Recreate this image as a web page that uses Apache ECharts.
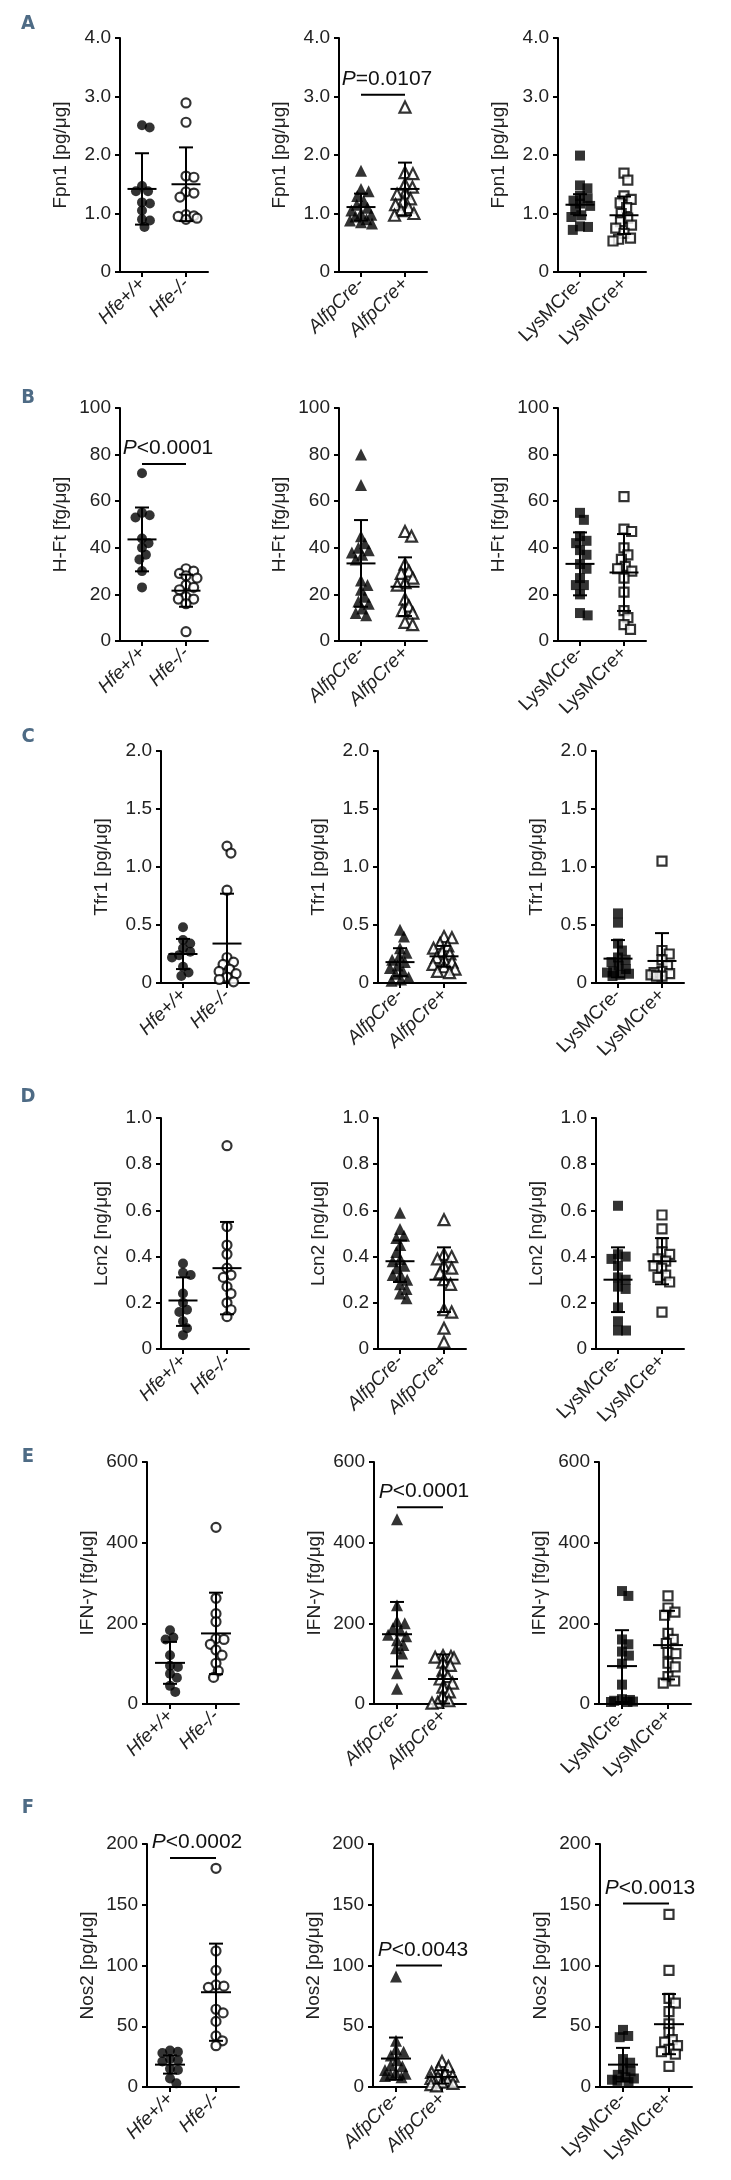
<!DOCTYPE html>
<html><head><meta charset="utf-8">
<script src="https://cdn.jsdelivr.net/npm/echarts@6/dist/echarts.min.js"></script>
<style>html,body{margin:0;padding:0;background:#fff}#c{width:731px;height:2180px}</style>
</head><body><div id="c"></div>
<script>
// ---------------- DATA ----------------
const hfeCats = ['Hfe+/+', 'Hfe-/-'];
const alfpCats = ['AlfpCre-', 'AlfpCre+'];
const lysCats = ['LysMCre-', 'LysMCre+'];

const yNames = ['Fpn1 [pg/μg]', 'H-Ft [fg/μg]', 'Tfr1 [pg/μg]', 'Lcn2 [ng/μg]', 'IFN-γ [fg/μg]', 'Nos2 [pg/μg]'];
const yMaxes = [4, 100, 2, 1, 600, 200];
const yIntervals = [1, 20, 0.5, 0.2, 200, 50];
const yDecimals = [1, 0, 1, 1, 0, 0];
const rowLetters = ['A', 'B', 'C', 'D', 'E', 'F'];

// Fpn1
const fpn1Hfe = [[2.51, 2.47, 1.47, 1.38, 1.38, 1.19, 1.17, 1.05, 0.9, 0.88, 0.77], [2.89, 2.56, 1.64, 1.62, 1.37, 1.35, 1.28, 0.98, 0.96, 0.95, 0.92, 0.9]];
const fpn1HfeStats = [[1.42, 0.81, 2.03], [1.50, 0.87, 2.13]];
const fpn1Alfp = [[1.73, 1.42, 1.38, 1.3, 1.22, 1.15, 1.1, 1.05, 1.0, 0.98, 0.95, 0.9, 0.88, 0.85, 0.83], [2.82, 1.7, 1.68, 1.5, 1.45, 1.35, 1.33, 1.25, 1.2, 1.15, 1.1, 1.05, 1.0, 0.97]];
const fpn1AlfpStats = [[1.11, 0.88, 1.34], [1.42, 0.97, 1.87]];
const fpn1Lys = [[1.99, 1.48, 1.43, 1.3, 1.26, 1.22, 1.17, 1.13, 1.06, 0.97, 0.94, 0.78, 0.77, 0.72], [1.69, 1.57, 1.3, 1.24, 1.18, 1.1, 1.0, 0.92, 0.86, 0.8, 0.75, 0.66, 0.58, 0.56, 0.53]];
const fpn1LysStats = [[1.15, 0.97, 1.33], [0.97, 0.65, 1.29]];
// H-Ft
const hftHfe = [[72, 55, 54, 53, 44, 42, 40, 37, 35, 30, 23], [31, 30, 29, 28, 27, 24, 23, 22, 19, 18, 18, 16, 4]];
const hftHfeStats = [[43.6, 29.9, 57.3], [21.6, 14.7, 28.5]];
const hftAlfp = [[80, 67, 45, 42, 40, 39, 38, 37, 35, 26, 24, 22, 19, 17, 16, 14, 12, 11], [47, 45, 33, 30, 29, 27, 25, 24, 18, 15, 13, 12, 8, 7]];
const hftAlfpStats = [[33.3, 14.7, 51.9], [23.3, 10.7, 35.9]];
const hftLys = [[55, 52, 45, 43, 42, 39, 37, 33, 31, 27, 24, 24, 20, 12, 11], [62, 48, 47, 40, 37, 35, 32, 31, 30, 27, 21, 13, 10, 7, 5]];
const hftLysStats = [[33.1, 19.6, 46.6], [29.4, 12.9, 45.9]];
// Tfr1
const tfr1Hfe = [[0.48, 0.37, 0.34, 0.3, 0.27, 0.24, 0.22, 0.14, 0.09, 0.06], [1.18, 1.12, 0.8, 0.22, 0.18, 0.16, 0.12, 0.1, 0.08, 0.05, 0.03, 0.01]];
const tfr1HfeStats = [[0.25, 0.12, 0.38], [0.34, -0.09, 0.77]];
const tfr1Alfp = [[0.46, 0.4, 0.3, 0.26, 0.23, 0.2, 0.18, 0.15, 0.13, 0.1, 0.08, 0.05, 0.03, 0.02], [0.4, 0.39, 0.34, 0.32, 0.3, 0.27, 0.25, 0.22, 0.2, 0.18, 0.16, 0.14, 0.12, 0.1, 0.09]];
const tfr1AlfpStats = [[0.18, 0.06, 0.30], [0.23, 0.14, 0.32]];
const tfr1Lys = [[0.6, 0.52, 0.34, 0.28, 0.22, 0.2, 0.18, 0.15, 0.12, 0.1, 0.09, 0.08, 0.07, 0.06], [1.05, 0.28, 0.25, 0.2, 0.15, 0.1, 0.09, 0.08, 0.07, 0.06, 0.06]];
const tfr1LysStats = [[0.21, 0.05, 0.37], [0.19, -0.05, 0.43]];
// Lcn2
const lcn2Hfe = [[0.37, 0.33, 0.32, 0.24, 0.2, 0.17, 0.16, 0.12, 0.09, 0.06], [0.88, 0.53, 0.45, 0.41, 0.35, 0.32, 0.31, 0.27, 0.24, 0.2, 0.17, 0.14]];
const lcn2HfeStats = [[0.21, 0.10, 0.31], [0.35, 0.15, 0.55]];
const lcn2Alfp = [[0.59, 0.52, 0.49, 0.48, 0.45, 0.42, 0.39, 0.38, 0.36, 0.35, 0.32, 0.32, 0.3, 0.28, 0.26, 0.24, 0.22], [0.56, 0.41, 0.4, 0.39, 0.36, 0.35, 0.33, 0.3, 0.28, 0.17, 0.16, 0.09, 0.03]];
const lcn2AlfpStats = [[0.38, 0.29, 0.47], [0.30, 0.16, 0.44]];
const lcn2Lys = [[0.62, 0.41, 0.4, 0.39, 0.36, 0.31, 0.3, 0.27, 0.26, 0.18, 0.12, 0.08, 0.08], [0.58, 0.52, 0.46, 0.42, 0.41, 0.39, 0.38, 0.36, 0.35, 0.32, 0.31, 0.29, 0.16]];
const lcn2LysStats = [[0.30, 0.16, 0.44], [0.38, 0.28, 0.48]];
// IFN-γ
const ifngHfe = [[183, 165, 160, 121, 95, 92, 75, 65, 45, 30], [438, 262, 224, 204, 162, 160, 148, 134, 121, 101, 82, 66]];
const ifngHfeStats = [[102, 50, 154], [175, 74, 276]];
const ifngAlfp = [[458, 245, 205, 200, 188, 182, 172, 168, 158, 146, 138, 125, 76, 38], [120, 118, 116, 114, 104, 96, 84, 68, 62, 52, 42, 30, 20, 8, 4, 2]];
const ifngAlfpStats = [[173, 93, 253], [62, 1, 123]];
const ifngLys = [[280, 268, 160, 148, 130, 120, 100, 48, 12, 10, 8, 6, 5, 5], [268, 238, 228, 220, 175, 160, 150, 128, 125, 101, 92, 68, 57, 52]];
const ifngLysStats = [[94, 5, 183], [146, 61, 231]];
// Nos2
const nos2Hfe = [[30, 29, 28, 23, 22, 21, 15, 14, 7, 3], [180, 112, 96, 84, 83, 82, 64, 61, 54, 42, 38, 34]];
const nos2HfeStats = [[18.4, 11, 26], [78, 38, 118]];
const nos2Alfp = [[91, 38, 31, 29, 26, 22, 18, 17, 14, 12, 11, 10, 9, 8], [21, 17, 15, 12, 11, 9, 8, 7, 5, 4, 3, 2, 1]];
const nos2AlfpStats = [[23.4, 6, 40.7], [8.3, 2.8, 13.8]];
const nos2Lys = [[47, 42, 41, 23, 20, 15, 13, 10, 8, 7, 6, 5, 4], [142, 96, 73, 69, 62, 52, 45, 39, 37, 34, 31, 29, 27, 17]];
const nos2LysStats = [[18.4, 4.6, 32.2], [51.7, 27, 76.5]];

// P-value annotations
const pRows = [0, 1, 4, 5, 5, 5];
const pCols = [1, 0, 1, 0, 1, 2];
const pLabels = ['=0.0107', '<0.0001', '<0.0001', '<0.0002', '<0.0043', '<0.0013'];
const pLevels = [3.03, 76, 488, 188.5, 100, 151];

// ---------------- LAYOUT ----------------
const panelValues = [
  [fpn1Hfe, fpn1Alfp, fpn1Lys], [hftHfe, hftAlfp, hftLys], [tfr1Hfe, tfr1Alfp, tfr1Lys],
  [lcn2Hfe, lcn2Alfp, lcn2Lys], [ifngHfe, ifngAlfp, ifngLys], [nos2Hfe, nos2Alfp, nos2Lys]];
const panelStats = [
  [fpn1HfeStats, fpn1AlfpStats, fpn1LysStats], [hftHfeStats, hftAlfpStats, hftLysStats],
  [tfr1HfeStats, tfr1AlfpStats, tfr1LysStats], [lcn2HfeStats, lcn2AlfpStats, lcn2LysStats],
  [ifngHfeStats, ifngAlfpStats, ifngLysStats], [nos2HfeStats, nos2AlfpStats, nos2LysStats]];
const colCats = [hfeCats, alfpCats, lysCats];

const rowLayout = [
  { top: 38, height: 234, lefts: [120, 339, 558], width: 88, letterY: 24 },
  { top: 408, height: 233, lefts: [120, 339, 558], width: 88, letterY: 398 },
  { top: 751, height: 232, lefts: [161, 378, 596], width: 88, letterY: 737 },
  { top: 1118, height: 231, lefts: [161, 378, 596], width: 88, letterY: 1097 },
  { top: 1462, height: 242, lefts: [147, 374, 599], width: 92, letterY: 1457 },
  { top: 1844, height: 243, lefts: [147, 373, 600], width: 92, letterY: 1808 }];

const FONT = '"Liberation Sans", Arial, sans-serif';
const symbols = ['circle', 'triangle', 'rect'];
const symSizes = [[10, 9], [12, 11], [10, 9]];
const italicCol = [true, true, false];

// beeswarm offsets (pixels) from the values and the axis scale
function swarm(vals, pxPerUnit, minD, lim) {
  const order = vals.map((v, i) => i).sort((a, b) => vals[b] - vals[a]);
  const placed = [];
  const off = new Array(vals.length).fill(0);
  for (const i of order) {
    const y = vals[i] * pxPerUnit;
    const cands = [0];
    for (const p of placed) {
      const dy = Math.abs(p.y - y);
      if (dy < minD) {
        const dx = Math.sqrt(minD * minD - dy * dy);
        cands.push(p.x + dx, p.x - dx);
      }
    }
    cands.sort((a, b) => Math.abs(a) - Math.abs(b) || b - a);
    let chosen = null;
    for (const c of cands) {
      if (Math.abs(c) > lim) continue;
      let ok = true;
      for (const p of placed) {
        const dx = p.x - c, dy = p.y - y;
        if (dx * dx + dy * dy < minD * minD - 0.01) { ok = false; break; }
      }
      if (ok) { chosen = c; break; }
    }
    if (chosen === null) {
      // no free slot inside the band: pick the least crowded of a few fixed lanes
      const lanes = [0, lim, -lim, lim / 2, -lim / 2];
      let best = 0, bestD = -1;
      for (const c of lanes) {
        let dmin = Infinity;
        for (const p of placed) dmin = Math.min(dmin, Math.hypot(p.x - c, p.y - y));
        if (dmin > bestD) { bestD = dmin; best = c; }
      }
      chosen = best;
    }
    placed.push({ x: chosen, y: y });
    off[i] = chosen;
  }
  return off;
}

function statsRenderer(params, api) {
  const x = api.value(0);
  const m = api.coord([x, api.value(1)]);
  const cs = params.coordSys;
  const bottom = cs.y + cs.height;
  let lo = api.coord([x, api.value(2)])[1];
  const hi = api.coord([x, api.value(3)])[1];
  const clipped = lo > bottom;
  if (clipped) lo = bottom;
  const half = cs.width > 90 ? 15 : 14.5, cap = 7;
  const st = { stroke: '#000', lineWidth: 2 };
  const ch = [
    { type: 'line', shape: { x1: m[0] - half, y1: m[1], x2: m[0] + half, y2: m[1] }, style: st },
    { type: 'line', shape: { x1: m[0], y1: hi, x2: m[0], y2: lo }, style: st },
    { type: 'line', shape: { x1: m[0] - cap, y1: hi, x2: m[0] + cap, y2: hi }, style: st }];
  if (!clipped) ch.push({ type: 'line', shape: { x1: m[0] - cap, y1: lo, x2: m[0] + cap, y2: lo }, style: st });
  return { type: 'group', children: ch };
}

function makePRenderer(label) {
  return function (params, api) {
    const y = api.value(1);
    const a = api.coord([0, y]), b = api.coord([1, y]);
    return {
      type: 'group', children: [
        { type: 'line', shape: { x1: a[0], y1: a[1], x2: b[0], y2: b[1] }, style: { stroke: '#000', lineWidth: 2 } },
        { type: 'text', x: (a[0] + b[0]) / 2 + 4, y: a[1] - 5,
          style: { text: '{i|P}' + label, fontSize: 21, fontFamily: FONT, fill: '#111', align: 'center', verticalAlign: 'bottom',
            rich: { i: { fontStyle: 'italic', fontSize: 21, fontFamily: FONT, fill: '#111' } } } }]
    };
  };
}

const grids = [], xAxes = [], yAxes = [], series = [], graphics = [];
let gi = 0;
const gridIndexOf = {};
for (let r = 0; r < 6; r++) {
  const L = rowLayout[r];
  graphics.push({ type: 'text', x: 28, y: L.letterY,
    style: { text: rowLetters[r], fontSize: 20, fontWeight: 'bold', fontFamily: '"Liberation Sans Narrow", "DejaVu Sans Condensed", sans-serif',
      fill: '#4e6b85', align: 'center', verticalAlign: 'middle' } });
  for (let c = 0; c < 3; c++) {
    gridIndexOf[r + '_' + c] = gi;
    grids.push({ left: L.lefts[c], top: L.top, width: L.width, height: L.height, containLabel: false });
    xAxes.push({ gridIndex: gi, type: 'category', data: colCats[c], boundaryGap: true,
      axisLine: { show: true, lineStyle: { color: '#000', width: 2 } },
      axisTick: { show: true, alignWithLabel: true, length: 5, lineStyle: { color: '#000', width: 2 } },
      axisLabel: { rotate: 45, interval: 0, fontSize: 19, color: '#222', fontFamily: FONT,
        fontStyle: italicCol[c] ? 'italic' : 'normal', margin: 9 },
      splitLine: { show: false } });
    const dec = yDecimals[r];
    yAxes.push({ gridIndex: gi, type: 'value', min: 0, max: yMaxes[r], interval: yIntervals[r],
      name: yNames[r], nameLocation: 'middle', nameRotate: 90, nameGap: 50,
      nameTextStyle: { fontSize: 19, color: '#222', fontFamily: FONT },
      axisLine: { show: true, lineStyle: { color: '#000', width: 2 } },
      axisTick: { show: true, length: 5, lineStyle: { color: '#000', width: 2 } },
      axisLabel: { fontSize: 19, color: '#222', fontFamily: FONT, margin: 9,
        formatter: v => (v === 0 ? '0' : v.toFixed(dec)) },
      splitLine: { show: false } });
    const pxPerUnit = L.height / yMaxes[r];
    for (let g = 0; g < 2; g++) {
      const vals = panelValues[r][c][g];
      const offs = swarm(vals, pxPerUnit, 8, 11);
      const open = g === 1;
      series.push({ type: 'scatter', xAxisIndex: gi, yAxisIndex: gi, z: 2,
        symbol: symbols[c], symbolSize: symSizes[c][g],
        itemStyle: open ? { color: '#fff', borderColor: '#000', borderWidth: 2.2 } : { color: '#000' },
        emphasis: { disabled: true }, silent: true,
        data: vals.map((v, j) => ({ value: [g, v], symbolOffset: [offs[j], 0] })) });
    }
    series.push({ type: 'custom', xAxisIndex: gi, yAxisIndex: gi, z: 5, silent: true,
      renderItem: statsRenderer, encode: { x: 0, y: 1 },
      data: panelStats[r][c].map((s, g) => [g, s[0], s[1], s[2]]) });
    gi++;
  }
}
for (let k = 0; k < pRows.length; k++) {
  const idx = gridIndexOf[pRows[k] + '_' + pCols[k]];
  series.push({ type: 'custom', xAxisIndex: idx, yAxisIndex: idx, z: 6, silent: true,
    renderItem: makePRenderer(pLabels[k]), encode: { x: 0, y: 1 },
    data: [[0, pLevels[k]]] });
}

const chart = echarts.init(document.getElementById('c'), null, { renderer: 'canvas', width: 731, height: 2180 });
chart.setOption({ animation: false, backgroundColor: '#fff', grid: grids, xAxis: xAxes, yAxis: yAxes, series: series, graphic: graphics });
</script></body></html>
